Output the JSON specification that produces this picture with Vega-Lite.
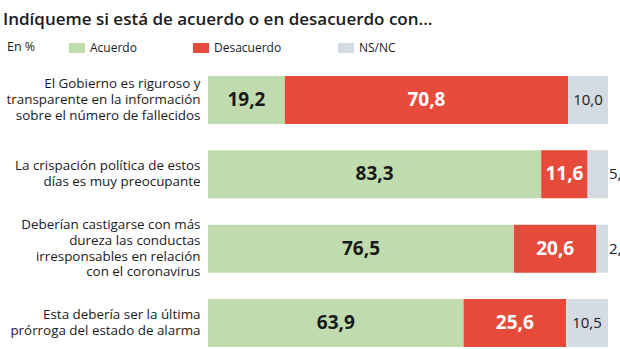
{
  "$schema": "https://vega.github.io/schema/vega-lite/v6.json",
  "width": 400,
  "height": 271,
  "autosize": "none",
  "padding": {"left": 208, "top": 76, "right": 12, "bottom": 2},
  "background": "#ffffff",
  "title": {
    "text": "Indíqueme si está de acuerdo o en desacuerdo con...",
    "anchor": "start",
    "frame": "group",
    "font": "Open Sans",
    "fontSize": 17,
    "fontWeight": 600,
    "color": "#1a1a1a",
    "baseline": "alphabetic",
    "offset": 17,
    "dx": -205,
    "dy": 19
  },
  "data": {
    "values": [
      {"pregunta": "El Gobierno es riguroso y|transparente en la información|sobre el número de fallecidos", "orden": 1, "respuesta": "Acuerdo", "k": 1, "valor": 19.2},
      {"pregunta": "El Gobierno es riguroso y|transparente en la información|sobre el número de fallecidos", "orden": 1, "respuesta": "Desacuerdo", "k": 2, "valor": 70.8},
      {"pregunta": "El Gobierno es riguroso y|transparente en la información|sobre el número de fallecidos", "orden": 1, "respuesta": "NS/NC", "k": 3, "valor": 10.0},
      {"pregunta": "La crispación política de estos|días es muy preocupante", "orden": 2, "respuesta": "Acuerdo", "k": 1, "valor": 83.3},
      {"pregunta": "La crispación política de estos|días es muy preocupante", "orden": 2, "respuesta": "Desacuerdo", "k": 2, "valor": 11.6},
      {"pregunta": "La crispación política de estos|días es muy preocupante", "orden": 2, "respuesta": "NS/NC", "k": 3, "valor": 5.1},
      {"pregunta": "Deberían castigarse con más|dureza las conductas|irresponsables en relación|con el coronavirus", "orden": 3, "respuesta": "Acuerdo", "k": 1, "valor": 76.5},
      {"pregunta": "Deberían castigarse con más|dureza las conductas|irresponsables en relación|con el coronavirus", "orden": 3, "respuesta": "Desacuerdo", "k": 2, "valor": 20.6},
      {"pregunta": "Deberían castigarse con más|dureza las conductas|irresponsables en relación|con el coronavirus", "orden": 3, "respuesta": "NS/NC", "k": 3, "valor": 2.9},
      {"pregunta": "Esta debería ser la última|prórroga del estado de alarma", "orden": 4, "respuesta": "Acuerdo", "k": 1, "valor": 63.9},
      {"pregunta": "Esta debería ser la última|prórroga del estado de alarma", "orden": 4, "respuesta": "Desacuerdo", "k": 2, "valor": 25.6},
      {"pregunta": "Esta debería ser la última|prórroga del estado de alarma", "orden": 4, "respuesta": "NS/NC", "k": 3, "valor": 10.5}
    ]
  },
  "encoding": {
    "y": {
      "field": "pregunta",
      "type": "nominal",
      "sort": {"field": "orden", "op": "min"},
      "scale": {"paddingInner": 0.354, "paddingOuter": 0},
      "axis": {
        "title": null,
        "domain": false,
        "ticks": false,
        "grid": false,
        "labelExpr": "split(datum.label, '|')",
        "labelAlign": "right",
        "labelBaseline": "middle",
        "labelPadding": 8,
        "labelFont": "Open Sans",
        "labelFontSize": 13.4,
        "labelColor": "#1a1a1a",
        "labelLineHeight": 15.7,
        "labelLimit": 0,
        "labelOffset": {
          "condition": [
            {"test": "length(split(datum.label, '|')) == 3", "value": -15.7},
            {"test": "length(split(datum.label, '|')) == 4", "value": -23.5}
          ],
          "value": -7.85
        }
      }
    }
  },
  "layer": [
    {
      "mark": {"type": "bar"},
      "encoding": {
        "x": {"field": "valor", "type": "quantitative", "stack": "zero", "scale": {"domain": [0, 100]}, "axis": null},
        "order": {"field": "k"},
        "color": {
          "field": "respuesta",
          "type": "nominal",
          "scale": {"domain": ["Acuerdo", "Desacuerdo", "NS/NC"], "range": ["#c0dcae", "#e64a3a", "#d4dbe2"]},
          "legend": {
            "title": "En %",
            "orient": "none",
            "legendX": -201,
            "legendY": -36,
            "direction": "horizontal",
            "titleOrient": "left",
            "titleFont": "Open Sans",
            "titleFontSize": 12.5,
            "titleFontWeight": "normal",
            "titleColor": "#1a1a1a",
            "titlePadding": 33,
            "labelFont": "Open Sans",
            "labelFontSize": 12,
            "labelColor": "#1a1a1a",
            "labelOffset": 5,
            "columnPadding": 56,
            "symbolType": "M-1,-0.625H1V0.625H-1Z",
            "symbolSize": 256,
            "symbolStrokeWidth": 0,
            "symbolOpacity": 1,
            "padding": 0
          }
        }
      }
    },
    {
      "mark": {"type": "text", "font": "Open Sans", "fontSize": 19, "fontWeight": "bold", "align": "center", "baseline": "middle"},
      "encoding": {
        "x": {"field": "valor", "type": "quantitative", "stack": "zero", "bandPosition": 0.5},
        "detail": {"field": "respuesta"},
        "order": {"field": "k"},
        "text": {"condition": {"test": "datum.respuesta != 'NS/NC'", "field": "valor", "type": "quantitative", "format": ".1f"}, "value": ""},
        "color": {"condition": {"test": "datum.respuesta == 'Desacuerdo'", "value": "#ffffff"}, "value": "#1a1a1a"}
      }
    },
    {
      "mark": {"type": "text", "font": "Open Sans", "fontSize": 15, "align": "center", "baseline": "middle", "color": "#1a1a1a"},
      "encoding": {
        "x": {"field": "valor", "type": "quantitative", "stack": "zero", "bandPosition": 0.5},
        "detail": {"field": "respuesta"},
        "order": {"field": "k"},
        "text": {"condition": {"test": "datum.respuesta == 'NS/NC' && datum.valor >= 8", "field": "valor", "type": "quantitative", "format": ".1f"}, "value": ""}
      }
    },
    {
      "mark": {"type": "text", "font": "Open Sans", "fontSize": 15, "align": "left", "baseline": "middle", "dx": 1, "color": "#1a1a1a"},
      "encoding": {
        "x": {"field": "valor", "type": "quantitative", "stack": "zero"},
        "detail": {"field": "respuesta"},
        "order": {"field": "k"},
        "text": {"condition": {"test": "datum.respuesta == 'NS/NC' && datum.valor < 8", "field": "valor", "type": "quantitative", "format": ".1f"}, "value": ""}
      }
    }
  ],
  "config": {
    "view": {"stroke": null},
    "locale": {"number": {"decimal": ",", "thousands": ".", "grouping": [3], "currency": ["", " €"]}}
  }
}
